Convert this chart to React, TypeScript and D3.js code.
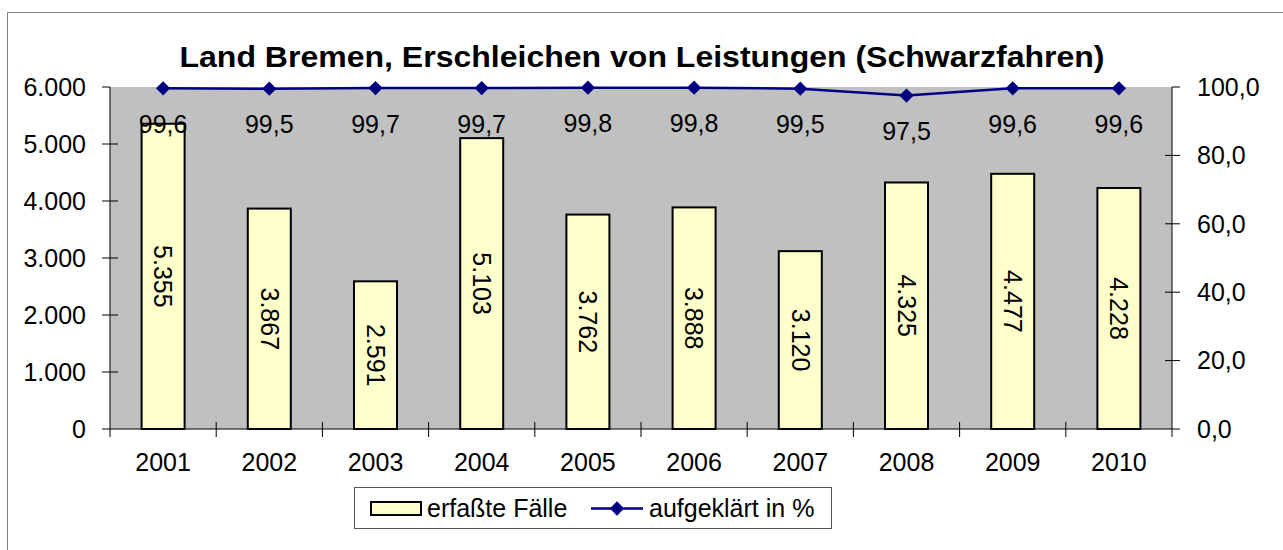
import React, { useEffect, useRef } from "react";
import * as d3 from "d3";

const years = ["2001", "2002", "2003", "2004", "2005", "2006", "2007", "2008", "2009", "2010"];
const cases = [5355, 3867, 2591, 5103, 3762, 3888, 3120, 4325, 4477, 4228];
const cleared = [99.6, 99.5, 99.7, 99.7, 99.8, 99.8, 99.5, 97.5, 99.6, 99.6];
const leftTicks = [0, 1000, 2000, 3000, 4000, 5000, 6000];
const rightTicks = [0, 20, 40, 60, 80, 100];

const W = 1283;
const H = 550;
const FONT = "Arial, 'Liberation Sans', sans-serif";

export default function App() {
  const ref = useRef<SVGSVGElement>(null);

  useEffect(() => {
    document.body.style.margin = "0";
    document.body.style.overflow = "hidden";
    const svg = d3.select(ref.current);
    svg.selectAll("*").remove();

    const left = 110, right = 1172, top = 87, bottom = 429;

    const x = d3.scaleBand().domain(years).range([left, right]);
    const yL = d3.scaleLinear().domain([0, 6000]).range([bottom, top]);
    const yR = d3.scaleLinear().domain([0, 100]).range([bottom, top]);
    const fmtThousands = (v: number) => d3.format(",")(v).replace(/,/g, ".");
    const fmtDec = (v: number) => v.toFixed(1).replace(".", ",");

    // outer frame: only top and left edges fall inside the picture
    svg.append("rect").attr("width", W).attr("height", H).attr("fill", "white");
    svg.append("path")
      .attr("d", `M7.5,${H} V12.5 H${W}`)
      .attr("fill", "none").attr("stroke", "#808080").attr("stroke-width", 1);

    // plot area
    svg.append("rect")
      .attr("x", left).attr("y", top)
      .attr("width", right - left).attr("height", bottom - top)
      .attr("fill", "#c0c0c0");

    // title
    svg.append("text")
      .attr("x", 642).attr("y", 67)
      .attr("text-anchor", "middle")
      .attr("textLength", 925)
      .attr("lengthAdjust", "spacingAndGlyphs")
      .style("font-family", FONT).style("font-weight", "bold").style("font-size", "29px")
      .text("Land Bremen, Erschleichen von Leistungen (Schwarzfahren)");

    // bars
    const bw = 43;
    const bars = svg.append("g");
    bars.selectAll("rect")
      .data(cases)
      .join("rect")
      .attr("x", (d, i) => x(years[i])! + x.bandwidth() / 2 - bw / 2)
      .attr("y", d => yL(d))
      .attr("width", bw)
      .attr("height", d => bottom - yL(d))
      .attr("fill", "#ffffcc")
      .attr("stroke", "black")
      .attr("stroke-width", 2);

    bars.selectAll("text")
      .data(cases)
      .join("text")
      .attr("transform", (d, i) => {
        const cx = x(years[i])! + x.bandwidth() / 2;
        const cy = (yL(d) + bottom) / 2;
        return `translate(${cx},${cy}) rotate(90)`;
      })
      .attr("text-anchor", "middle")
      .attr("dy", "0.35em")
      .style("font-family", FONT).style("font-size", "25px")
      .text(d => fmtThousands(d));

    // axes lines
    const axisColor = "#000";
    svg.append("line").attr("x1", left).attr("x2", left).attr("y1", top).attr("y2", bottom)
      .attr("stroke", axisColor).attr("stroke-width", 1);
    svg.append("line").attr("x1", right).attr("x2", right).attr("y1", top).attr("y2", bottom)
      .attr("stroke", axisColor).attr("stroke-width", 1);
    svg.append("line").attr("x1", left).attr("x2", right).attr("y1", bottom).attr("y2", bottom)
      .attr("stroke", axisColor).attr("stroke-width", 1);

    // left ticks
    const gl = svg.append("g");
    gl.selectAll("line").data(leftTicks).join("line")
      .attr("x1", left - 8).attr("x2", left)
      .attr("y1", d => yL(d)).attr("y2", d => yL(d))
      .attr("stroke", "#000");
    gl.selectAll("line.in").data(leftTicks.filter(d => d > 0 && d < 6000)).join("line")
      .attr("class", "in")
      .attr("x1", left).attr("x2", left + 8)
      .attr("y1", d => yL(d)).attr("y2", d => yL(d))
      .attr("stroke", "#000");
    gl.selectAll("text").data(leftTicks).join("text")
      .attr("x", 86).attr("y", d => yL(d))
      .attr("dy", "0.35em")
      .attr("text-anchor", "end")
      .style("font-family", FONT).style("font-size", "25px")
      .text(d => fmtThousands(d));

    // right ticks
    const gr = svg.append("g");
    gr.selectAll("line").data(rightTicks).join("line")
      .attr("x1", right).attr("x2", right + 8)
      .attr("y1", d => yR(d)).attr("y2", d => yR(d))
      .attr("stroke", "#000");
    gr.selectAll("line.in").data(rightTicks.filter(d => d > 0 && d < 100)).join("line")
      .attr("class", "in")
      .attr("x1", right - 7).attr("x2", right)
      .attr("y1", d => yR(d)).attr("y2", d => yR(d))
      .attr("stroke", "#000");
    gr.selectAll("text").data(rightTicks).join("text")
      .attr("x", 1197).attr("y", d => yR(d))
      .attr("dy", "0.35em")
      .style("font-family", FONT).style("font-size", "25px")
      .text(d => fmtDec(d));

    // category ticks and labels
    const gx = svg.append("g");
    const edges = years.map(y => x(y)!).concat([right]);
    gx.selectAll("line").data(edges).join("line")
      .attr("x1", d => d).attr("x2", d => d)
      .attr("y1", (d, i) => (i === 0 || i === edges.length - 1) ? bottom : bottom - 7)
      .attr("y2", bottom + 8)
      .attr("stroke", "#000");
    gx.selectAll("text").data(years).join("text")
      .attr("x", d => x(d)! + x.bandwidth() / 2).attr("y", 462)
      .attr("dy", "0.35em")
      .attr("text-anchor", "middle")
      .style("font-family", FONT).style("font-size", "25px")
      .text(d => d);

    // line series
    const line = d3.line<number>()
      .x((d, i) => x(years[i])! + x.bandwidth() / 2)
      .y(d => yR(d));
    svg.append("path")
      .datum(cleared)
      .attr("d", line)
      .attr("fill", "none")
      .attr("stroke", "#000080")
      .attr("stroke-width", 2.5);
    const diamond = d3.symbol().type(d3.symbolDiamond2).size(130);
    svg.append("g").selectAll("path").data(cleared).join("path")
      .attr("transform", (d, i) => `translate(${x(years[i])! + x.bandwidth() / 2},${yR(d)})`)
      .attr("d", diamond)
      .attr("fill", "#000080");
    svg.append("g").selectAll("text").data(cleared).join("text")
      .attr("x", (d, i) => x(years[i])! + x.bandwidth() / 2)
      .attr("y", d => yR(d) + 36)
      .attr("dy", "0.35em")
      .attr("text-anchor", "middle")
      .style("font-family", FONT).style("font-size", "25px")
      .text(d => fmtDec(d));

    // legend
    const lg = svg.append("g");
    lg.append("rect")
      .attr("x", 354.5).attr("y", 487.5).attr("width", 477).attr("height", 41)
      .attr("fill", "white").attr("stroke", "#555").attr("stroke-width", 1);
    lg.append("rect")
      .attr("x", 371).attr("y", 502).attr("width", 50).attr("height", 13)
      .attr("fill", "#ffffcc").attr("stroke", "black").attr("stroke-width", 2);
    lg.append("text")
      .attr("x", 427).attr("y", 508).attr("dy", "0.35em")
      .style("font-family", FONT).style("font-size", "25px")
      .text("erfaßte Fälle");
    lg.append("line")
      .attr("x1", 591).attr("x2", 643).attr("y1", 508.5).attr("y2", 508.5)
      .attr("stroke", "#000080").attr("stroke-width", 2.5);
    lg.append("path")
      .attr("transform", "translate(617,508.5)")
      .attr("d", diamond)
      .attr("fill", "#000080");
    lg.append("text")
      .attr("x", 649).attr("y", 508).attr("dy", "0.35em")
      .style("font-family", FONT).style("font-size", "25px")
      .text("aufgeklärt in %");
  }, []);

  return (
    <svg ref={ref} width={W} height={H} style={{ position: "absolute", left: 0, top: 0, display: "block" }} />
  );
}
